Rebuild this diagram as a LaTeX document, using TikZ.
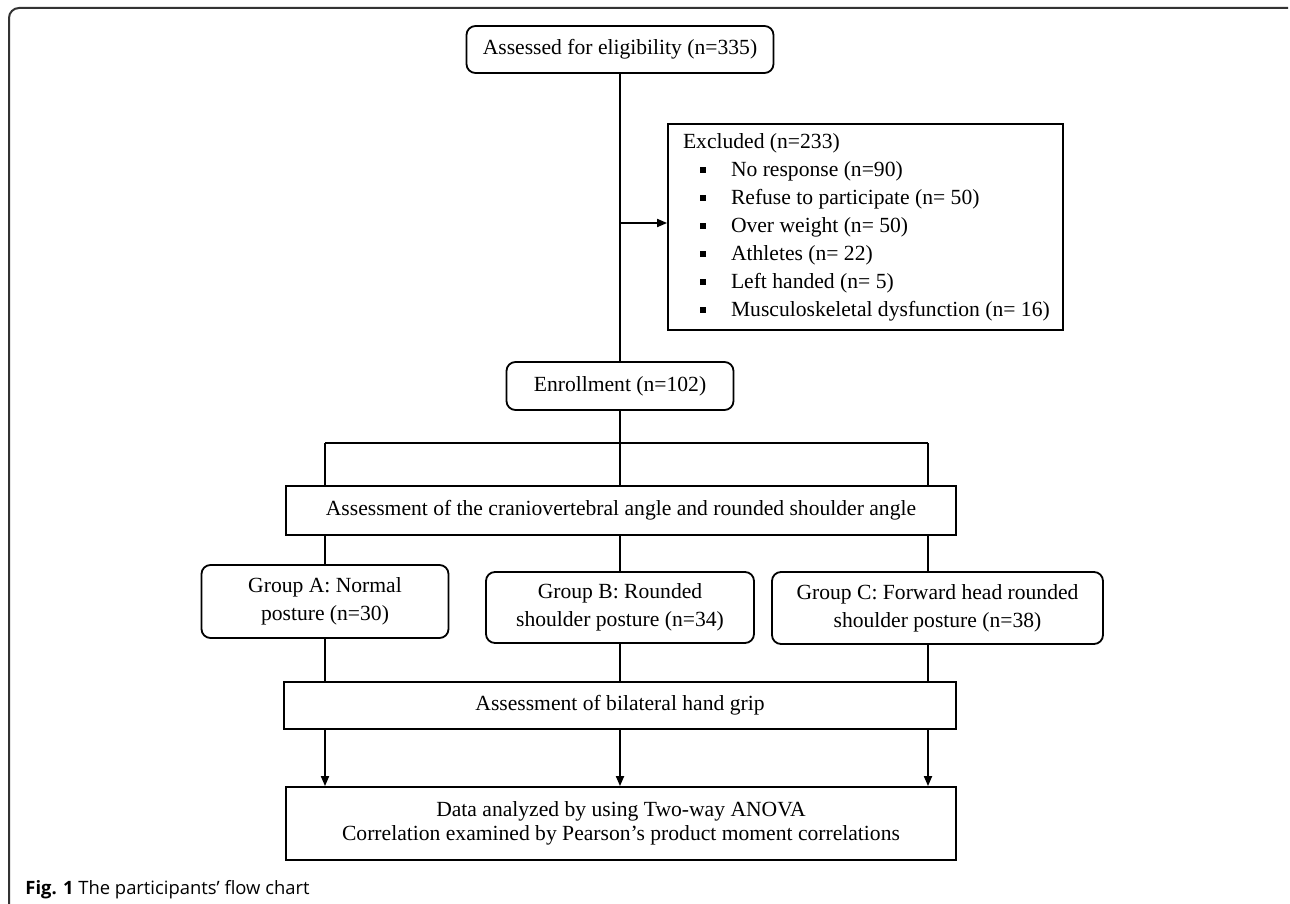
\documentclass[tikz,border=0pt]{standalone}
\usepackage{fontspec}
\setmainfont{Liberation Serif}
\setsansfont{Open Sans}
\usepackage{tikz}
\usetikzlibrary{arrows.meta}

% one bullet line of the exclusion list
\newcommand{\exitem}[1]{\mbox{\hspace*{8.5pt}\rule[1.8pt]{3pt}{3pt}\hspace{12.5pt}#1}}

\begin{document}
\begin{tikzpicture}[x=0.5pt,y=-0.5pt,
  font=\fontsize{10.8}{14}\selectfont,
  rbox/.style={draw, line width=0.9pt, rounded corners=4.5pt, inner sep=0pt, align=center, fill=white},
  sbox/.style={draw, line width=0.9pt, inner sep=0pt, align=center, fill=white},
  link/.style={line width=0.9pt},
  arr/.style={line width=0.9pt, -{Triangle[length=5pt,width=4pt]}}]
\useasboundingbox (0,0) rectangle (1290,904);
% outer frame
\draw[line width=1pt, black!80, rounded corners=5pt] (9,904) -- (9,8) -- (1288,8);

\node[rbox, minimum width=153.5pt, minimum height=23.5pt] (elig) at (620,49.5) {Assessed for eligibility (n=335)};
\node[sbox, align=flush left, text width=182.5pt, inner xsep=7.5pt, minimum height=103pt] (excl) at (865.5,227) {\mbox{Excluded (n=233)}\\
  \exitem{No response (n=90)}\\
  \exitem{Refuse to participate (n= 50)}\\
  \exitem{Over weight (n= 50)}\\
  \exitem{Athletes (n= 22)}\\
  \exitem{Left handed (n= 5)}\\
  \exitem{Musculoskeletal dysfunction (n= 16)}};
\node[rbox, minimum width=113.5pt, minimum height=24pt] (enrol) at (620,386) {Enrollment (n=102)};
\node[sbox, minimum width=335pt, minimum height=24.5pt] (angles) at (621,510.5) {Assessment of the craniovertebral angle and rounded shoulder angle};
\node[rbox, minimum width=123.5pt, minimum height=36.5pt] (grpA) at (325,601.5) {Group A: Normal\\posture (n=30)};
\node[rbox, minimum width=134pt, minimum height=35.5pt] (grpB) at (620,607.5) {Group B: Rounded\\shoulder posture (n=34)};
\node[rbox, minimum width=165.5pt, minimum height=36pt] (grpC) at (937.5,608) {Group C: Forward head rounded\\shoulder posture (n=38)};
\node[sbox, minimum width=336pt, minimum height=23.5pt] (grip) at (620,705.5) {Assessment of bilateral hand grip};
\node[sbox, minimum width=335pt, minimum height=36.5pt, font=\fontsize{10.8}{11.8}\selectfont] (final) at (621,823.5) {Data analyzed by using Two-way ANOVA\\Correlation examined by Pearson's product moment correlations};

% connectors
\coordinate (split) at (620,223);
\coordinate (barA) at (325,443);
\coordinate (barC) at (928,443);
\draw[link] (elig) -- (enrol);
\draw[arr] (split) -- (split -| excl.west);
\draw[link] (barA) -- (barC);
\draw[link] (enrol.south) -- (enrol.south |- angles.north);
\draw[link] (barA) -- (barA |- angles.north);
\draw[link] (barC) -- (barC |- angles.north);
\draw[link] (barA |- angles.south) -- (barA |- grpA.north);
\draw[link] (angles.south -| grpB) -- (grpB.north);
\draw[link] (barC |- angles.south) -- (barC |- grpC.north);
\draw[link] (barA |- grpA.south) -- (barA |- grip.north);
\draw[link] (grpB.south) -- (grpB.south |- grip.north);
\draw[link] (barC |- grpC.south) -- (barC |- grip.north);
\draw[arr] (barA |- grip.south) -- (barA |- final.north);
\draw[arr] (grip.south -| grpB) -- (grpB |- final.north);
\draw[arr] (barC |- grip.south) -- (barC |- final.north);

\node[anchor=base west, inner sep=0pt, font=\sffamily\fontsize{9.2}{11}\selectfont] (caption) at (25,894) {\textbf{Fig. 1} The participants' flow chart};
\end{tikzpicture}
\end{document}
